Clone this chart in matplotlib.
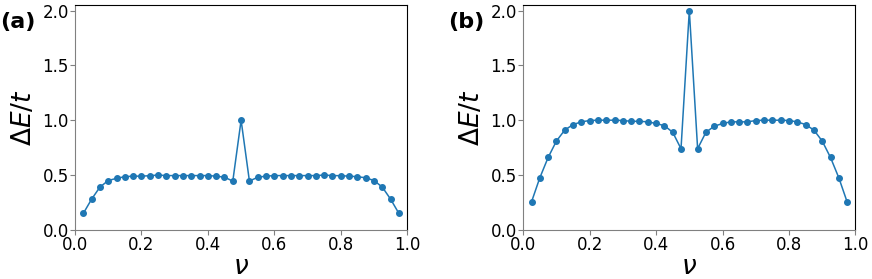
import matplotlib
matplotlib.use("Agg")
import matplotlib.pyplot as plt
import numpy as np

# filling factors nu = 1/40 ... 39/40
nu = [0.025, 0.05, 0.075, 0.1, 0.125, 0.15, 0.175, 0.2, 0.225, 0.25,
      0.275, 0.3, 0.325, 0.35, 0.375, 0.4, 0.425, 0.45, 0.475, 0.5,
      0.525, 0.55, 0.575, 0.6, 0.625, 0.65, 0.675, 0.7, 0.725, 0.75,
      0.775, 0.8, 0.825, 0.85, 0.875, 0.9, 0.925, 0.95, 0.975]

gap_a = [0.15, 0.28, 0.39, 0.45, 0.47, 0.485, 0.49, 0.49, 0.494, 0.5,
         0.495, 0.495, 0.495, 0.495, 0.495, 0.495, 0.49, 0.48, 0.445, 1.0,
         0.445, 0.48, 0.49, 0.495, 0.495, 0.495, 0.495, 0.495, 0.495, 0.5,
         0.495, 0.494, 0.49, 0.485, 0.475, 0.45, 0.39, 0.28, 0.15]

gap_b = [0.255, 0.475, 0.66, 0.81, 0.91, 0.96, 0.985, 0.997, 1.0, 1.0,
         1.0, 0.997, 0.99, 0.99, 0.985, 0.97, 0.95, 0.89, 0.74, 2.0,
         0.74, 0.89, 0.945, 0.97, 0.985, 0.985, 0.985, 0.997, 1.0, 1.0,
         1.0, 0.997, 0.985, 0.96, 0.91, 0.81, 0.66, 0.475, 0.255]

panels = [("(a)", gap_a), ("(b)", gap_b)]
lefts = [0.086, 0.600]

fig = plt.figure(figsize=(8.72, 2.79), dpi=100)
for (tag, gap), x0 in zip(panels, lefts):
    ax = fig.add_axes([x0, 0.176, 0.381, 0.806])
    ax.plot(nu, gap, "o-", color="tab:blue", ms=4, lw=1.1)
    ax.set_xlim(0, 1)
    ax.set_ylim(0, 2.05)
    ax.set_xticks(np.arange(0, 1.01, 0.2))
    ax.set_yticks(np.arange(0, 2.01, 0.5))
    ax.tick_params(labelsize=12, color="gray", pad=1)
    for side in ("left", "bottom"):
        ax.spines[side].set_color("gray")
    ax.set_xlabel(r"$\nu$", fontsize=19, labelpad=0)
    ax.set_ylabel(r"$\Delta E/t$", fontsize=19, labelpad=4)
    fig.text(x0 - 0.086, 0.90, tag, fontsize=16, fontweight="bold")

fig.savefig("out.png", dpi=100)
